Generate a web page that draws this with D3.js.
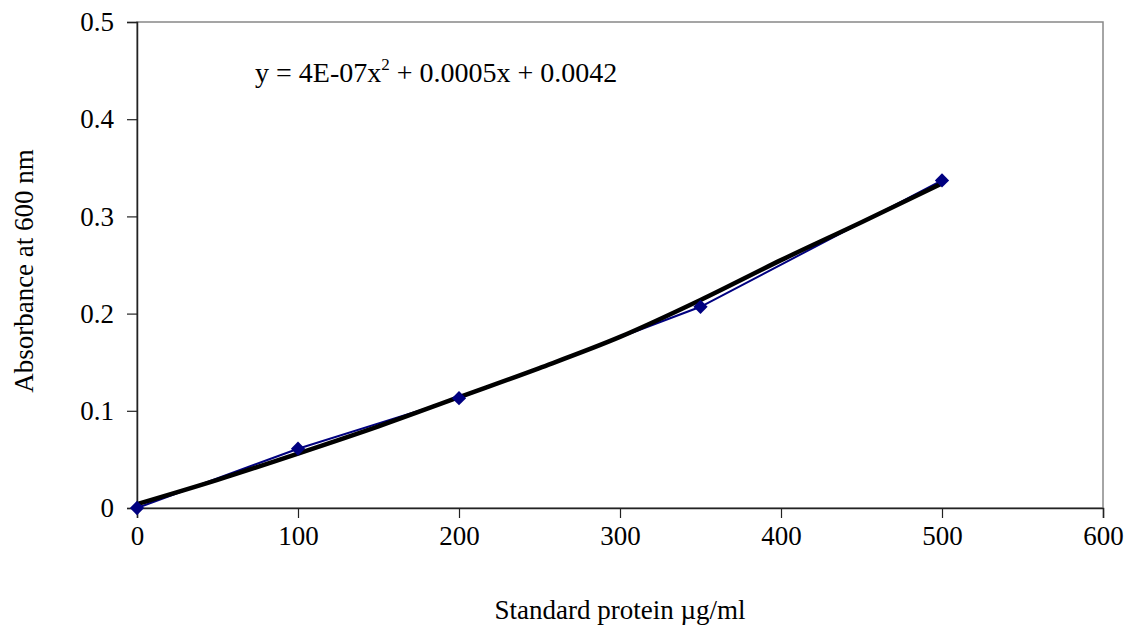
<!DOCTYPE html>
<html lang="en">
<head>
    <meta charset="UTF-8">
    <title>Standard protein curve</title>
    <script src="https://d3js.org/d3.v7.min.js"></script>
    <style>
        body { margin: 0; background: #fff; }
        text { font-family: "Liberation Serif", "Times New Roman", serif; fill: #000; }
    </style>
</head>
<body>
<svg id="chart" width="1137" height="632"></svg>
<script>
    // measured standard points
    var concentration = [0, 100, 200, 350, 500];
    var absorbance = [0, 0.061, 0.113, 0.207, 0.337];

    // polynomial trendline
    var trendX = [0, 50, 100, 150, 200, 250, 300, 350, 400, 450, 500];
    var trendY = [0.004, 0.029, 0.056, 0.084, 0.114, 0.144, 0.176, 0.214, 0.255, 0.294, 0.334];

    var xTicks = [0, 100, 200, 300, 400, 500, 600];
    var yTicks = [0, 0.1, 0.2, 0.3, 0.4, 0.5];

    var serif = "Liberation Serif, Times New Roman, serif";
    var svg = d3.select("#chart");
    var plotLeft = 137, plotRight = 1103, plotTop = 22, plotBottom = 508;

    var x = d3.scaleLinear().domain([0, 600]).range([plotLeft, plotRight]);
    var y = d3.scaleLinear().domain([0, 0.5]).range([plotBottom, plotTop]);

    // plot frame (top / right in grey)
    svg.append("rect")
        .attr("x", plotLeft).attr("y", plotTop)
        .attr("width", plotRight - plotLeft).attr("height", plotBottom - plotTop)
        .attr("fill", "none").attr("stroke", "#888").attr("stroke-width", 1.5);

    var xAxis = svg.append("g")
        .attr("transform", "translate(0," + plotBottom + ")")
        .call(d3.axisBottom(x).tickValues(xTicks).tickSize(10).tickPadding(8).tickFormat(d3.format("d")));
    var yAxis = svg.append("g")
        .attr("transform", "translate(" + plotLeft + ",0)")
        .call(d3.axisLeft(y).tickValues(yTicks).tickSize(10).tickPadding(13)
            .tickFormat(function (d) { return d === 0 ? "0" : d3.format(".1f")(d); }));

    [xAxis, yAxis].forEach(function (a) {
        a.attr("font-family", serif);
        a.select(".domain").attr("stroke", "#222").attr("stroke-width", 1.5);
        a.selectAll(".tick line").attr("stroke", "#222").attr("stroke-width", 1.2);
        a.selectAll(".tick text")
            .attr("font-family", serif)
            .attr("font-size", 27)
            .attr("fill", "#000");
    });

    // data line (blue)
    var dataLine = d3.line()
        .x(function (d, i) { return x(concentration[i]); })
        .y(function (d) { return y(d); });

    svg.append("path")
        .datum(absorbance)
        .attr("d", dataLine)
        .attr("fill", "none")
        .attr("stroke", "#000080")
        .attr("stroke-width", 2);

    // trendline (black, thick)
    var trendLine = d3.line()
        .x(function (d, i) { return x(trendX[i]); })
        .y(function (d) { return y(d); })
        .curve(d3.curveMonotoneX);

    svg.append("path")
        .datum(trendY)
        .attr("d", trendLine)
        .attr("fill", "none")
        .attr("stroke", "#000")
        .attr("stroke-width", 4.5)
        .attr("stroke-linejoin", "round");

    // diamond markers
    svg.append("g").selectAll("path")
        .data(absorbance)
        .enter().append("path")
        .attr("d", d3.symbol().type(d3.symbolDiamond2).size(130))
        .attr("transform", function (d, i) { return "translate(" + x(concentration[i]) + "," + y(d) + ")"; })
        .attr("fill", "#000080");

    // equation
    var eq = svg.append("text")
        .attr("x", 255).attr("y", 82)
        .attr("font-family", serif)
        .attr("font-size", 28);
    eq.append("tspan").text("y = 4E-07x");
    eq.append("tspan").attr("font-size", 17).attr("dy", -12).text("2");
    eq.append("tspan").attr("dy", 12).text(" + 0.0005x + 0.0042");

    // axis titles
    svg.append("text")
        .attr("x", 620).attr("y", 619)
        .attr("text-anchor", "middle")
        .attr("font-family", serif)
        .attr("font-size", 27)
        .text("Standard protein \u00b5g/ml");

    svg.append("text")
        .attr("transform", "translate(33,271) rotate(-90)")
        .attr("text-anchor", "middle")
        .attr("font-family", serif)
        .attr("font-size", 27)
        .text("Absorbance at 600 nm");
</script>
</body>
</html>
